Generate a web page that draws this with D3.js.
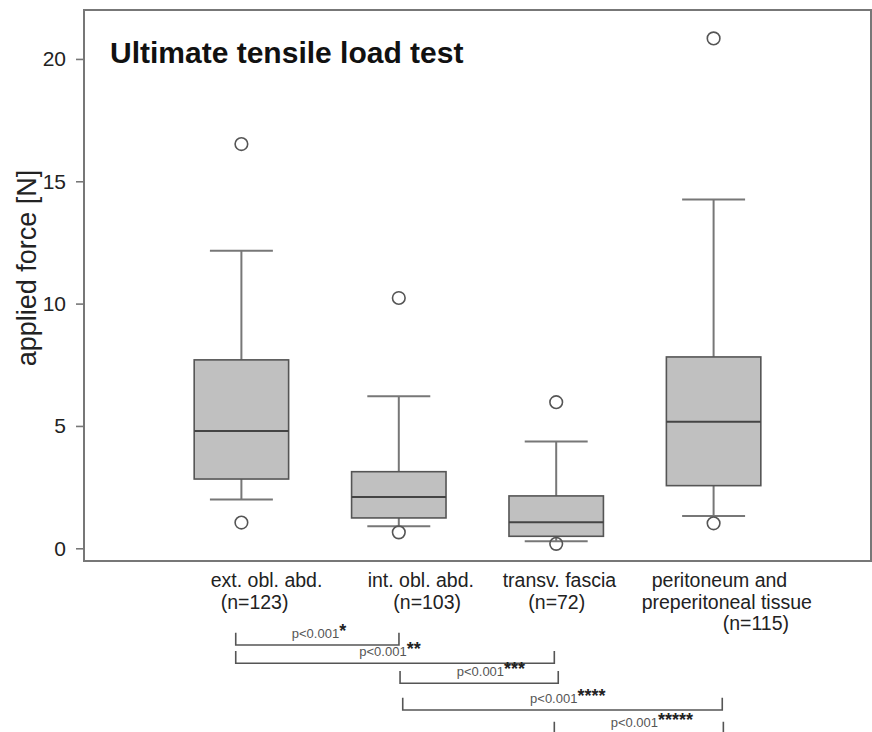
<!DOCTYPE html>
<html>
<head>
<meta charset="utf-8">
<script src="https://cdn.jsdelivr.net/npm/d3@7"></script>
<style>
  body { margin: 0; background: #fff; }
  svg { display: block; font-family: "Liberation Sans", Arial, sans-serif; }
</style>
</head>
<body>
<div id="chart"></div>
<script>
// Box statistics per tissue layer
const categoryLines = [
    ["ext. obl. abd.", "(n=123)"],
    ["int. obl. abd.", "(n=103)"],
    ["transv. fascia", "(n=72)"],
    ["peritoneum and", "preperitoneal tissue", "(n=115)"]
];
const whiskerLow = [1.99, 0.90, 0.29, 1.32];
const q1 = [2.83, 1.24, 0.49, 2.56];
const medians = [4.79, 2.10, 1.06, 5.17];
const q3 = [7.70, 3.13, 2.14, 7.82];
const whiskerHigh = [12.16, 6.21, 4.36, 14.26];
const outliers = [[16.52, 1.05], [10.23, 0.65], [5.97, 0.18], [20.84, 1.02]];
const yTicks = [0, 5, 10, 15, 20];

// Pairwise comparisons (positions in group units, 1 = first box)
const compFrom = [0.964, 0.964, 2.008, 2.025, 2.988];
const compTo = [2.001, 2.988, 3.013, 4.055, 4.062];
const compLabelAt = [1.320, 1.749, 2.368, 2.834, 3.346];
const compText = ["p<0.001", "p<0.001", "p<0.001", "p<0.001", "p<0.001"];
const compStars = ["*", "**", "***", "****", "*****"];

// Layout (pixels)
const frame = { left: 84, right: 871, top: 10, bottom: 561 };
const labelStart = [[-30.7, -20.7], [-31.1, -5.5], [-53.5, -27.9], [-61.9, -71.9, 9.1]];
const labelBaselines = [587, 608.5, 630];
const bracketRows = [645, 663.3, 683.3, 710, 734];

const svg = d3.select("#chart")
    .append("svg")
    .attr("width", 872)
    .attr("height", 732);

const xScale = d3.scaleLinear().domain([0, 5]).range([frame.left, frame.right]);
const yScale = d3.scaleLinear().domain([-0.52, 22.0]).range([frame.bottom, frame.top]);

const boxHalf = 0.3, capHalf = 0.2;
const groups = d3.range(categoryLines.length);

// Whiskers (vertical stems and caps)
const whiskers = svg.append("g")
    .attr("stroke", "#777")
    .attr("stroke-width", 2);
groups.forEach(i => {
    const cx = xScale(i + 1);
    whiskers.append("line")
        .attr("x1", cx).attr("x2", cx)
        .attr("y1", yScale(whiskerHigh[i])).attr("y2", yScale(q3[i]));
    whiskers.append("line")
        .attr("x1", cx).attr("x2", cx)
        .attr("y1", yScale(q1[i])).attr("y2", yScale(whiskerLow[i]));
    [whiskerHigh[i], whiskerLow[i]].forEach(v => {
        whiskers.append("line")
            .attr("x1", xScale(i + 1 - capHalf)).attr("x2", xScale(i + 1 + capHalf))
            .attr("y1", yScale(v)).attr("y2", yScale(v));
    });
});

// Boxes
svg.append("g").selectAll("rect")
    .data(groups)
    .join("rect")
    .attr("x", i => xScale(i + 1 - boxHalf))
    .attr("width", i => xScale(i + 1 + boxHalf) - xScale(i + 1 - boxHalf))
    .attr("y", i => yScale(q3[i]))
    .attr("height", i => yScale(q1[i]) - yScale(q3[i]))
    .attr("fill", "#c0c0c0")
    .attr("stroke", "#555")
    .attr("stroke-width", 1.6);

// Medians
svg.append("g").selectAll("line")
    .data(groups)
    .join("line")
    .attr("x1", i => xScale(i + 1 - boxHalf))
    .attr("x2", i => xScale(i + 1 + boxHalf))
    .attr("y1", i => yScale(medians[i]))
    .attr("y2", i => yScale(medians[i]))
    .attr("stroke", "#444")
    .attr("stroke-width", 2);

// Outliers
svg.append("g").selectAll("circle")
    .data(outliers.flatMap((vals, i) => vals.map(v => ({ i, v }))))
    .join("circle")
    .attr("cx", d => xScale(d.i + 1))
    .attr("cy", d => yScale(d.v))
    .attr("r", 6.3)
    .attr("fill", "none")
    .attr("stroke", "#555")
    .attr("stroke-width", 1.6);

// Plot frame
svg.append("rect")
    .attr("x", frame.left)
    .attr("y", frame.top)
    .attr("width", frame.right - frame.left)
    .attr("height", frame.bottom - frame.top)
    .attr("fill", "none")
    .attr("stroke", "#777")
    .attr("stroke-width", 2);

// Y axis
const yAxis = svg.append("g")
    .attr("transform", `translate(${frame.left},0)`)
    .call(d3.axisLeft(yScale).tickValues(yTicks).tickSize(8).tickPadding(10));
yAxis.select(".domain").remove();
yAxis.selectAll(".tick line").attr("stroke", "#777").attr("stroke-width", 1.6);
yAxis.selectAll(".tick text")
    .attr("fill", "#222")
    .style("font-size", "21px")
    .style("font-family", "'Liberation Sans', Arial, sans-serif");

// Y axis label
svg.append("text")
    .attr("transform", "rotate(-90)")
    .attr("x", -268)
    .attr("y", 36)
    .attr("text-anchor", "middle")
    .attr("fill", "#222")
    .style("font-size", "27px")
    .text("applied force [N]");

// Title
svg.append("text")
    .attr("x", 110)
    .attr("y", 63)
    .attr("fill", "#111")
    .style("font-size", "30px")
    .style("font-weight", "bold")
    .text("Ultimate tensile load test");

// Category labels
groups.forEach(i => {
    categoryLines[i].forEach((line, j) => {
        svg.append("text")
            .attr("x", xScale(i + 1) + labelStart[i][j])
            .attr("y", labelBaselines[j])
            .attr("fill", "#222")
            .style("font-size", "19.5px")
            .text(line);
    });
});

// Significance brackets
const brackets = svg.append("g");
compFrom.forEach((from, k) => {
    const y = bracketRows[k];
    const x1 = xScale(from), x2 = xScale(compTo[k]);
    brackets.append("path")
        .attr("d", `M${x1},${y - 12.3}V${y}H${x2}V${y - 12.3}`)
        .attr("fill", "none")
        .attr("stroke", "#555")
        .attr("stroke-width", 1.6);
    const t = brackets.append("text")
        .attr("x", xScale(compLabelAt[k]))
        .attr("y", y - 7.5)
        .attr("fill", "#555")
        .style("font-size", "13px");
    t.append("tspan").text(compText[k]);
    t.append("tspan")
        .attr("dy", -1)
        .attr("fill", "#222")
        .style("font-size", "18px")
        .style("font-weight", "bold")
        .text(compStars[k]);
});
</script>
</body>
</html>
